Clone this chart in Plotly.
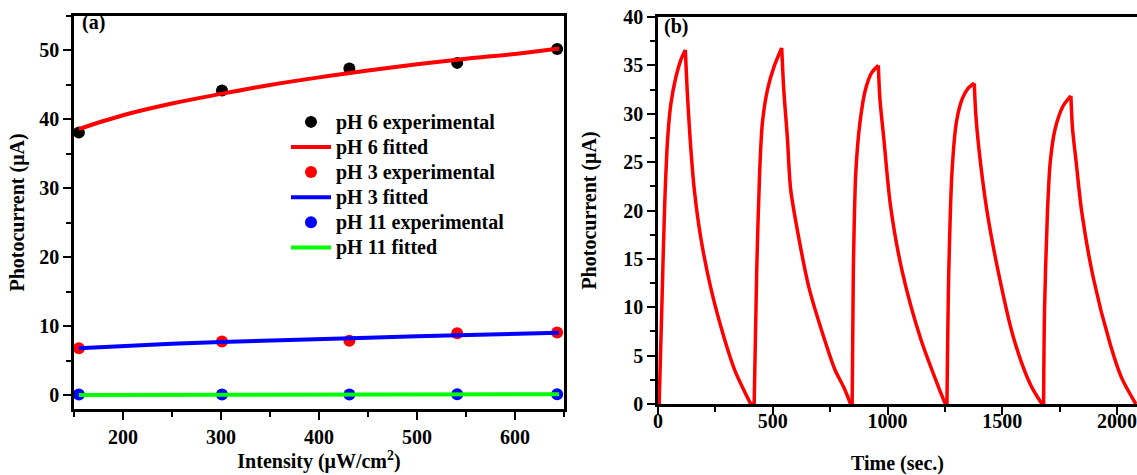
import plotly.graph_objects as go

# ---------------- data: panel (a) ----------------
intensity = [155, 301, 431, 541, 643]
ph6_exp = [38.1, 44.2, 47.4, 48.2, 50.2]
ph3_exp = [6.8, 7.8, 7.9, 9.0, 9.1]
ph11_exp = [0.1, 0.1, 0.1, 0.15, 0.15]

fit_x = [155, 200, 250, 300, 350, 400, 450, 500, 550, 600, 645]
ph6_fit = [38.6, 40.6, 42.3, 43.7, 45.0, 46.1, 47.1, 48.0, 48.8, 49.5, 50.3]
ph3_fit = [6.8, 7.15, 7.45, 7.7, 7.95, 8.15, 8.35, 8.55, 8.75, 8.9, 9.05]
ph11_fit = [0.02, 0.04, 0.06, 0.08, 0.09, 0.1, 0.11, 0.12, 0.13, 0.14, 0.15]

# ---------------- data: panel (b) ----------------
time_s = [5, 17, 29, 42, 56, 78, 100, 119,
          127, 140, 158, 187, 230, 288, 336, 404,
          419, 430, 443, 455, 477, 506, 539,
          548, 564, 578, 614, 658, 723, 770, 810, 839,
          846, 851, 862, 880, 904, 930, 960,
          967, 984, 1013, 1064, 1143, 1223, 1252,
          1259, 1267, 1281, 1300, 1325, 1350, 1378,
          1385, 1400, 1433, 1484, 1549, 1622, 1673,
          1680, 1684, 1697, 1709, 1730, 1765, 1799,
          1806, 1822, 1846, 1897, 1970, 2020, 2082]
photocurrent = [0, 10.3, 20.5, 27.4, 31.0, 33.8, 35.6, 36.6,
                32.5, 27.4, 22.2, 17.1, 12.0, 6.85, 3.4, 0,
                0, 13.7, 24.0, 29.1, 32.5, 34.9, 36.8,
                32.5, 27.4, 22.2, 17.1, 12.0, 6.85, 3.6, 1.7, 0,
                0, 13.7, 24.0, 29.1, 32.5, 34.2, 35.0,
                31.5, 27.4, 20.5, 13.7, 6.85, 1.7, 0,
                0, 13.7, 24.0, 29.1, 31.5, 32.6, 33.15,
                29.8, 26.0, 20.0, 13.5, 6.85, 2.05, 0,
                0, 9.6, 19.9, 25.0, 28.4, 30.8, 31.85,
                28.5, 25.0, 19.9, 13.0, 6.2, 2.7, 0]

FONT = "Liberation Serif, Times New Roman, serif"

fig = go.Figure()

legend_span = '<span style="font-size:20px"><b>{}</b></span>'

fig.add_trace(go.Scatter(x=intensity, y=ph6_exp, mode="markers", name=legend_span.format("pH 6 experimental"),
                         marker=dict(color="black", size=12), xaxis="x", yaxis="y"))
fig.add_trace(go.Scatter(x=fit_x, y=ph6_fit, mode="lines", name=legend_span.format("pH 6 fitted"),
                         line=dict(color="#ff0000", width=4, shape="spline"), xaxis="x", yaxis="y"))
fig.add_trace(go.Scatter(x=intensity, y=ph3_exp, mode="markers", name=legend_span.format("pH 3 experimental"),
                         marker=dict(color="#ff0000", size=12), xaxis="x", yaxis="y"))
fig.add_trace(go.Scatter(x=fit_x, y=ph3_fit, mode="lines", name=legend_span.format("pH 3 fitted"),
                         line=dict(color="#0000ff", width=4), xaxis="x", yaxis="y"))
fig.add_trace(go.Scatter(x=intensity, y=ph11_exp, mode="markers", name=legend_span.format("pH 11 experimental"),
                         marker=dict(color="#0000ff", size=12), xaxis="x", yaxis="y"))
fig.add_trace(go.Scatter(x=fit_x, y=ph11_fit, mode="lines", name=legend_span.format("pH 11 fitted"),
                         line=dict(color="#00ff00", width=4), xaxis="x", yaxis="y"))

# panel (b): split the on/off record at its peaks and zero points, draw each piece smoothly
breaks = [0]
for i in range(1, len(photocurrent) - 1):
    is_peak = photocurrent[i] > photocurrent[i - 1] and photocurrent[i] > photocurrent[i + 1]
    if is_peak or photocurrent[i] == 0:
        breaks.append(i)
breaks.append(len(photocurrent) - 1)
for a, b in zip(breaks[:-1], breaks[1:]):
    fig.add_trace(go.Scatter(x=time_s[a:b + 1], y=photocurrent[a:b + 1], mode="lines",
                             showlegend=False, line=dict(color="#ff0000", width=3.5, shape="spline",
                                                         smoothing=0.8),
                             xaxis="x2", yaxis="y2"))

tickfont = dict(family=FONT, size=20, color="black")
titlefont = dict(family=FONT, size=20, color="black")

axis_common = dict(showgrid=False, zeroline=False, showline=True, linecolor="black",
                   linewidth=2.5, ticks="outside", tickwidth=2, tickcolor="black",
                   ticklen=8, tickfont=tickfont, tickprefix="<b>", ticksuffix="</b>",
                   ticklabeloverflow="allow")

W, H = 1137, 475
L, R, T, B = 74, 0, 16, 63
pw = W - L - R
ph = H - T - B

fig.update_layout(
    width=W, height=H,
    margin=dict(l=L, r=R, t=T, b=B),
    plot_bgcolor="white", paper_bgcolor="white",
    xaxis=dict(**axis_common, domain=[0, (564 - L) / pw], range=[150, 650], dtick=100,
               mirror=True, anchor="y",
               minor=dict(ticks="outside", dtick=50, ticklen=5, tickwidth=2, tickcolor="black"),
               title=dict(text="<b>Intensity (μW/cm<sup>2</sup>)</b>", font=titlefont, standoff=6)),
    yaxis=dict(**axis_common, domain=[0, 1], range=[-2, 55], dtick=10, mirror=True, anchor="x",
               minor=dict(ticks="outside", dtick=5, ticklen=5, tickwidth=2, tickcolor="black"),
               title=dict(text="<b>Photocurrent (μA)</b>", font=titlefont, standoff=10)),
    xaxis2=dict(**axis_common, domain=[(658 - L) / pw, 1], range=[0, 2087], dtick=500,
                mirror=True, anchor="y2", ticklabelstandoff=-11,
                minor=dict(ticks="outside", dtick=250, ticklen=5, tickwidth=2, tickcolor="black"),
                title=dict(text="<b>Time (sec.)</b>", font=titlefont, standoff=29)),
    yaxis2=dict(**axis_common, domain=[(412 - 407) / ph, 1 - 1 / ph], range=[0, 40], dtick=5,
                mirror=False, anchor="x2",
                minor=dict(ticks="outside", dtick=2.5, ticklen=5, tickwidth=2, tickcolor="black"),
                title=dict(text="<b>Photocurrent (μA)</b>", font=titlefont, standoff=22)),
    legend=dict(x=(286 - L) / pw, y=1 - (105 - T) / ph,
                xanchor="left", yanchor="top", bgcolor="rgba(0,0,0,0)",
                font=dict(family=FONT, size=17, color="black"),
                itemwidth=40, tracegroupgap=0),
    annotations=[
        dict(text="<b>(a)</b>", x=80, y=23, xref="paper", yref="paper", showarrow=False,
             font=titlefont, xanchor="left", yanchor="middle"),
        dict(text="<b>(b)</b>", x=662, y=27, xref="paper", yref="paper", showarrow=False,
             font=titlefont, xanchor="left", yanchor="middle"),
    ],
)

# convert the pixel anchors of the panel labels into paper coordinates
for a in fig.layout.annotations:
    a.x = (a.x - L) / pw
    a.y = 1 - (a.y - T) / ph

fig.write_html("out.html", config={"displayModeBar": False},
               post_script="document.body.style.margin='0';document.body.style.overflow='hidden';")
